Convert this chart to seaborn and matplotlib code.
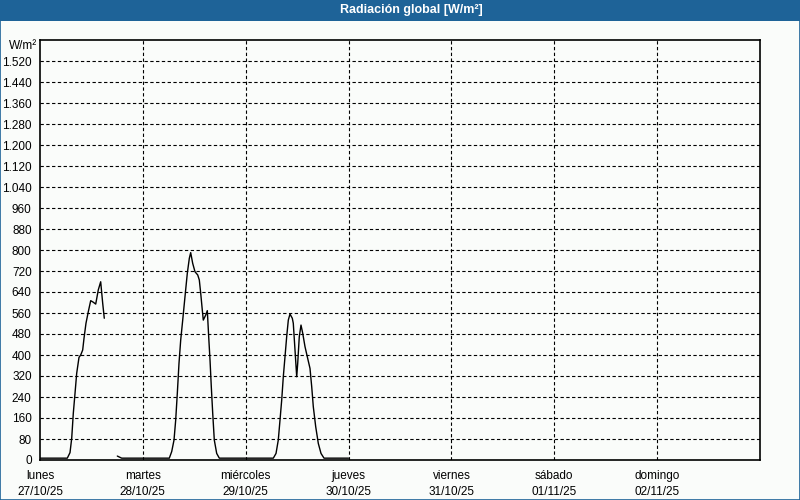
import numpy as np
import pandas as pd
import matplotlib
matplotlib.use("Agg")
import matplotlib.pyplot as plt
from matplotlib.patches import Rectangle
from matplotlib.ticker import FuncFormatter
import seaborn as sns

# ---- data (hours since Mon 27/10/25 00:00, W/m²) ----
hours_mon = [0, 6.37, 7.0, 7.4, 7.77, 8.17, 8.56, 9.1, 9.5, 9.96, 10.27, 10.73,
             11.27, 11.83, 12.44, 13.0, 13.6, 14.16, 14.63, 15.0]
vals_mon = [7, 7, 28, 83, 178, 254, 330, 391, 400, 419, 464, 521,
            565, 607, 601, 594, 648, 679, 597, 540]

hours_rest = [18.04, 19.06, 30.17, 30.73, 31.27, 31.66, 32.04, 32.43, 32.83, 33.3,
              33.83, 34.37, 34.84, 35.16, 35.63, 36.17, 36.8, 37.17, 37.5, 37.87,
              38.1, 38.66, 39.04, 39.36, 39.67, 39.97, 40.3, 40.67, 41.23, 41.84,
              54.44, 55.07, 55.6, 56.0, 56.4, 56.77, 57.17, 57.56, 57.94, 58.33,
              58.87, 59.1, 59.5, 59.9, 60.13, 60.5, 60.9, 61.3, 61.83, 62.46,
              63.0, 63.4, 63.77, 64.33, 64.94, 65.57, 66.27, 72.0]
vals_rest = [15, 7, 7, 32, 76, 152, 254, 368, 457, 533,
             622, 711, 768, 790, 749, 717, 705, 686, 635, 571,
             533, 552, 569, 470, 381, 279, 178, 76, 25, 7,
             7, 25, 76, 152, 229, 317, 394, 470, 533, 556,
             540, 521, 419, 317, 368, 470, 514, 483, 432, 387,
             349, 279, 203, 127, 63, 25, 7, 7]

day_names = ["lunes", "martes", "miércoles", "jueves", "viernes", "sábado", "domingo"]
day_dates = ["27/10/25", "28/10/25", "29/10/25", "30/10/25", "31/10/25", "01/11/25", "02/11/25"]
y_ticks = list(range(0, 1521, 80))

df = pd.DataFrame({
    "hour": hours_mon + hours_rest,
    "val": vals_mon + vals_rest,
    "seg": [0] * len(hours_mon) + [1] * len(hours_rest),
})

BLUE = "#1E6398"
BG = "#FAFCFA"

sns.set_style("white")
plt.rcParams["font.family"] = ["Liberation Sans", "DejaVu Sans"]

fig = plt.figure(figsize=(8, 5), dpi=100, facecolor=BG)
ax = fig.add_axes([0.05, 0.08, 0.90, 0.84])
ax.set_facecolor(BG)

sns.lineplot(data=df, x="hour", y="val", units="seg", estimator=None,
             color="black", linewidth=1.0, ax=ax, legend=False)

ax.set_xlim(0, 168)
ax.set_ylim(0, 1600)
ax.set_yticks(y_ticks)
ax.yaxis.set_major_formatter(FuncFormatter(lambda v, p: f"{int(v):,}".replace(",", ".")))
ax.set_xticks([24 * i for i in range(7)])
ax.set_xticklabels([f"{n}\n{d}" for n, d in zip(day_names, day_dates)], linespacing=1.45)
ax.tick_params(axis="both", direction="out", length=3, width=1, color="black",
               labelsize=8.5, labelcolor="black")
ax.tick_params(axis="x", pad=4)
ax.tick_params(axis="y", pad=3)
ax.set_xlabel("")
ax.set_ylabel("")

dash = (0, (3.0, 2.2))
for y in y_ticks[1:]:
    ax.axhline(y, color="black", lw=0.8, linestyle=dash, zorder=1)
for i in range(1, 7):
    ax.axvline(24 * i, color="black", lw=0.8, linestyle=dash, zorder=1)

for s in ax.spines.values():
    s.set_color("black")
    s.set_linewidth(1.2)
    s.set_visible(True)

# title bar
fig.patches.append(Rectangle((0, 0.958), 1, 0.042, transform=fig.transFigure,
                             facecolor=BLUE, edgecolor="none", zorder=0))
fig.patches.append(Rectangle((0.0006, 0.001), 0.9988, 0.998, transform=fig.transFigure,
                             facecolor="none", edgecolor=BLUE, lw=1.2, zorder=5))
fig.text(0.514, 0.979, "Radiación global [W/m²]", color="white", fontsize=9,
         fontweight="bold", ha="center", va="center")
fig.text(0.046, 0.908, "W/m²", fontsize=8.5, ha="right", va="center", color="black")

fig.savefig("out.png", dpi=100, facecolor=BG)
